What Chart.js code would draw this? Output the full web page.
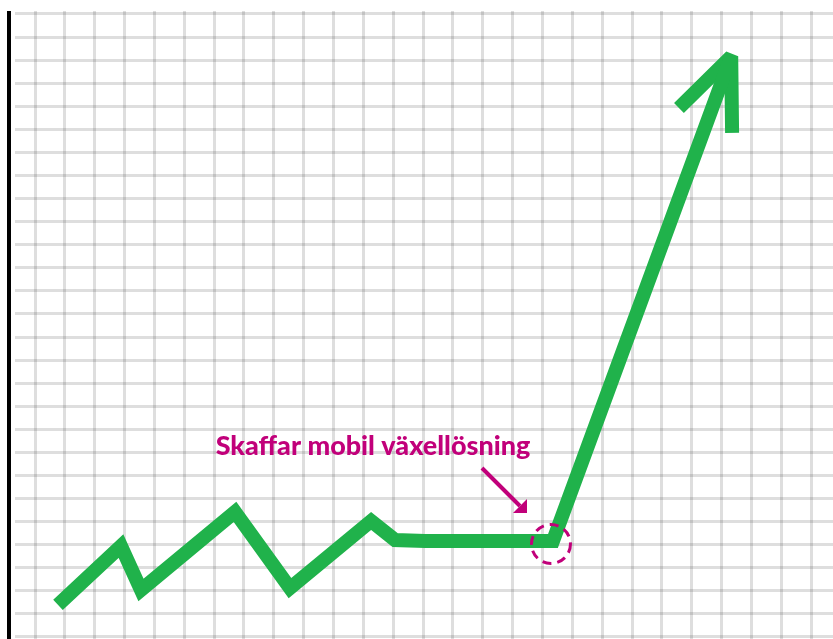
<!DOCTYPE html>
<html><head><meta charset="utf-8">
<script src="https://cdn.jsdelivr.net/npm/chart.js@4.4.1/dist/chart.umd.min.js"></script>
<style>html,body{margin:0;padding:0;background:#fff;overflow:hidden}canvas{display:block}</style>
</head><body>
<canvas id="c" width="833" height="639"></canvas>
<script>
// Data (grid units: x = grid column, y = grid row from bottom)
const xValues = [0.77, 2.88, 3.55, 6.70, 8.54, 11.26, 12.06, 13.07, 17.35, 23.32];
const yValues = [1.39, 3.94, 2.04, 5.42, 2.12, 5.03, 4.20, 4.16, 4.16, 25.16];
const arrowHeadX = [21.57, 23.32, 23.35];
const arrowHeadY = [22.93, 25.16, 21.85];
const calloutIndex = 8;
const calloutLabel = 'Skaffar mobil växellösning';
const xRange = [-0.67, 26.73];
const yRange = [-0.087, 27.13];

const GREEN = '#20b24b';
const MAGENTA = '#c1007a';
const GRID = 'rgba(0,0,0,0.13)';

const lineData = xValues.map((x, i) => ({x, y: yValues[i]}));
const headData = arrowHeadX.map((x, i) => ({x, y: arrowHeadY[i]}));

const decor = {
  id: 'decor',
  beforeDatasetsDraw(chart) {
    const {ctx, chartArea: a} = chart;
    ctx.save();
    ctx.fillStyle = '#000';
    ctx.fillRect(a.left - 8, a.top, 4, a.bottom - a.top);
    ctx.restore();
  },
  afterDatasetsDraw(chart) {
    const {ctx, scales} = chart;
    const px = scales.x.getPixelForValue(xValues[calloutIndex]);
    const py = scales.y.getPixelForValue(yValues[calloutIndex]);
    ctx.save();
    // dashed circle
    ctx.strokeStyle = MAGENTA;
    ctx.lineWidth = 3;
    ctx.setLineDash([9, 6]);
    ctx.beginPath();
    ctx.arc(px - 2, py + 3, 19.5, 0, Math.PI * 2);
    ctx.stroke();
    ctx.setLineDash([]);
    // arrow
    ctx.lineWidth = 4;
    ctx.beginPath();
    ctx.moveTo(px - 71, py - 73);
    ctx.lineTo(px - 33, py - 35);
    ctx.stroke();
    ctx.fillStyle = MAGENTA;
    ctx.beginPath();
    ctx.moveTo(px - 26, py - 42);
    ctx.lineTo(px - 26, py - 28);
    ctx.lineTo(px - 40, py - 28);
    ctx.closePath();
    ctx.fill();
    // label
    let size = 26;
    ctx.font = 'bold ' + size + 'px Lato';
    const w = ctx.measureText(calloutLabel).width;
    size = size * 312 / w;
    ctx.font = '900 ' + size.toFixed(2) + 'px Lato';
    const w2 = ctx.measureText(calloutLabel).width;
    if (w2 > 318) ctx.font = 'bold ' + size.toFixed(2) + 'px Lato';
    ctx.textAlign = 'center';
    ctx.textBaseline = 'alphabetic';
    ctx.fillText(calloutLabel, px - 180, py - 86);
    ctx.restore();
  }
};

const lineStyle = {
  borderColor: GREEN, borderWidth: 14, pointRadius: 0, pointHoverRadius: 0,
  borderJoinStyle: 'miter', borderCapStyle: 'butt', tension: 0, fill: false
};

new Chart(document.getElementById('c'), {
  type: 'line',
  data: {
    datasets: [
      Object.assign({data: lineData}, lineStyle),
      Object.assign({data: headData}, lineStyle, {borderJoinStyle: 'bevel'})
    ]
  },
  options: {
    responsive: false,
    animation: false,
    devicePixelRatio: 1,
    layout: {padding: {left: 15, top: 11, right: 0, bottom: 0}},
    plugins: {legend: {display: false}, tooltip: {enabled: false}},
    scales: {
      x: {
        type: 'linear', min: xRange[0], max: xRange[1],
        ticks: {display: false, stepSize: 1, includeBounds: false, maxTicksLimit: 200},
        grid: {color: GRID, lineWidth: 3, drawTicks: false},
        border: {display: false}
      },
      y: {
        type: 'linear', min: yRange[0], max: yRange[1],
        ticks: {display: false, stepSize: 1, includeBounds: false, maxTicksLimit: 200},
        grid: {color: GRID, lineWidth: 3, drawTicks: false},
        border: {display: false}
      }
    }
  },
  plugins: [decor]
});
</script>
</body></html>
